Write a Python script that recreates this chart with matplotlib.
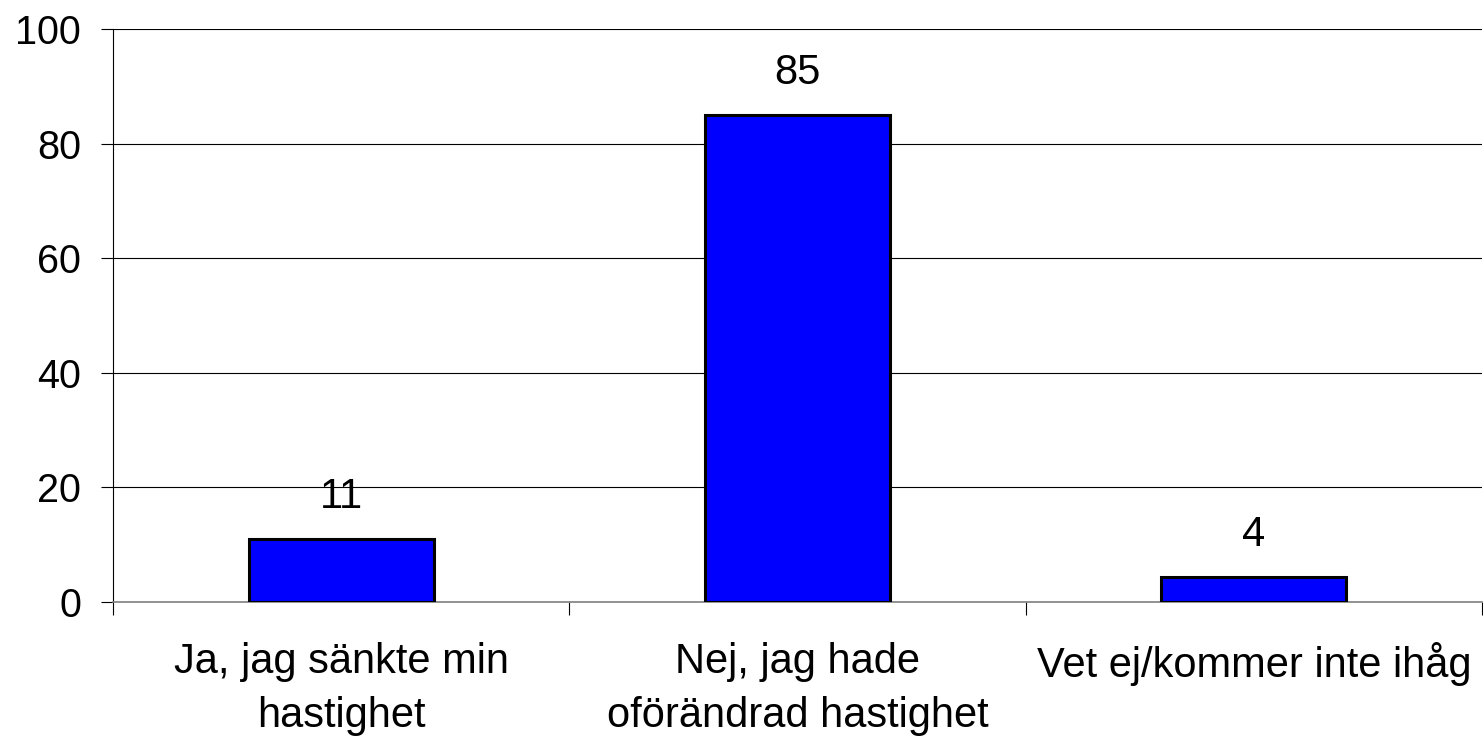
import numpy as np
import matplotlib
matplotlib.use('Agg')
import matplotlib.pyplot as plt

# --- data ---
categories = ['Ja, jag sänkte min\nhastighet',
              'Nej, jag hade\noförändrad hastighet',
              'Vet ej/kommer inte ihåg']
values = [11, 85, 4.4]
yticks = [0, 20, 40, 60, 80, 100]

plt.rcParams['font.family'] = ['Liberation Sans', 'DejaVu Sans']

fig = plt.figure(figsize=(14.83, 7.38), dpi=100)
ax = fig.add_axes([113/1483, 1 - 602/738, 1369/1483, 573/738])

x = np.arange(len(categories))
ax.bar(x, values, width=0.405, color='#0000FF', edgecolor='black', linewidth=2.2, zorder=3)

for xi, v in zip(x, values):
    ax.annotate(f'{v:.0f}', (xi, v), xytext=(0, 16), textcoords='offset points',
                ha='center', va='bottom', fontsize=30)

ax.set_xlim(-0.5, len(categories) - 0.5)
ax.set_ylim(0, 100)
ax.set_yticks(yticks)
ax.set_yticklabels([str(t) for t in yticks], fontsize=28.5)
ax.yaxis.grid(True, color='black', linewidth=0.8, zorder=0)
ax.set_axisbelow(True)

ax.set_xticks(x)
ax.set_xticklabels(categories, fontsize=30, linespacing=1.45)
ax.tick_params(axis='x', length=0, pad=29)
ax.set_xticks(np.arange(-0.5, len(categories)), minor=True)
ax.tick_params(axis='x', which='minor', length=9, width=0.8, direction='out')
ax.tick_params(axis='y', length=9, width=0.8, direction='out', pad=14)

for s in ['top', 'right']:
    ax.spines[s].set_visible(False)
ax.spines['left'].set_linewidth(0.8)
ax.spines['bottom'].set_color('#808080')
ax.spines['bottom'].set_linewidth(1.2)

fig.savefig('out.png', dpi=100)
